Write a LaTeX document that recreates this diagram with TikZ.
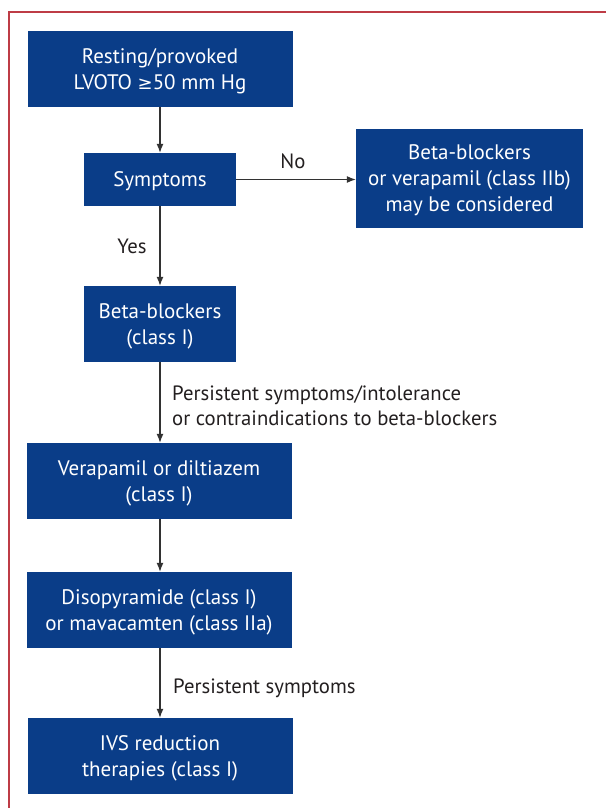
\documentclass[tikz,border=0pt]{standalone}
\usepackage{fontspec}
\setmainfont{PT Sans}
\newfontfamily\symfont{DejaVu Sans}
\usetikzlibrary{arrows.meta}
\definecolor{boxblue}{RGB}{10,61,136}
\definecolor{framered}{RGB}{190,60,70}
\definecolor{linegray}{RGB}{50,50,50}
\definecolor{textgray}{RGB}{35,31,32}
\begin{document}
\begin{tikzpicture}[x=1pt,y=-1pt,
  box/.style={fill=boxblue, text=white, align=center, inner sep=0pt, text depth=0pt,
    font=\fontsize{21}{26}\selectfont},
  conn/.style={draw=linegray, line width=1.2pt, -{Latex[length=9pt,width=7pt]}},
  lbl/.style={text=textgray, inner sep=0pt, font=\fontsize{20.7}{25}\selectfont}]
\useasboundingbox (0,0) rectangle (606,808);
\draw[framered, line width=1.5pt] (9,808) -- (9,12) -- (606,12);
\node[box, minimum width=265pt, minimum height=76pt] (b1) at (160,69) {Resting/provoked\\LVOTO {\symfont\fontsize{18}{26}\selectfont ≥}50 mm Hg};
\node[box, minimum width=152pt, minimum height=53pt] (sym) at (160,179.5) {Symptoms};
\node[box, minimum width=152pt, minimum height=76pt] (bb) at (160,324) {Beta-blockers\\(class I)};
\node[box, minimum width=227pt, minimum height=99pt] (rt) at (469.5,178.5) {Beta-blockers\\or verapamil (class IIb)\\may be considered};
\node[box, minimum width=265pt, minimum height=76pt] (ver) at (159,481) {Verapamil or diltiazem\\(class I)};
\node[box, minimum width=265pt, minimum height=76pt] (dis) at (159,610) {Disopyramide (class I)\\or mavacamten (class IIa)};
\node[box, minimum width=265pt, minimum height=76pt] (ivs) at (160,756) {IVS reduction\\therapies (class I)};
\draw[conn] (b1.south) -- (b1.south |- sym.north);
\draw[conn] (sym.south) -- (bb.north);
\draw[conn] (sym.east) -- (sym.east -| rt.west);
\draw[conn] (bb.south) -- (bb.south |- ver.north);
\draw[conn] (ver.south -| bb.south) -- (dis.north -| bb.south);
\draw[conn] (dis.south -| bb.south) -- (ivs.north -| bb.south);
\node[lbl, anchor=base] (lno) at (293,168) {No};
\node[lbl, anchor=base] (lyes) at (132,253) {Yes};
\node[lbl, anchor=west, align=left] (lp1) at (172,406) {Persistent symptoms/intolerance\\or contraindications to beta-blockers};
\node[lbl, anchor=base west] (lp2) at (173,693) {Persistent symptoms};
\end{tikzpicture}
\end{document}
